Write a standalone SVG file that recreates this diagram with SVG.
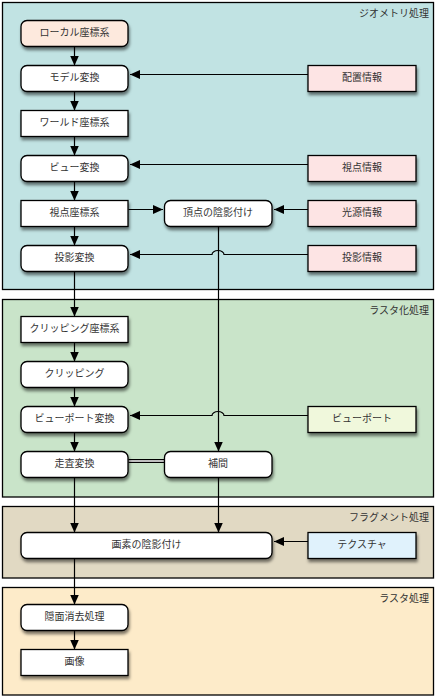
<svg xmlns="http://www.w3.org/2000/svg" width="436" height="697" viewBox="0 0 436 697">
<defs>
<filter id="sh" x="-10%" y="-20%" width="130%" height="160%">
<feDropShadow dx="1" dy="3" stdDeviation="1.8" flood-color="#000" flood-opacity="0.5"/>
</filter>
<marker id="ah" markerUnits="userSpaceOnUse" markerWidth="10" markerHeight="9" refX="10" refY="4.5" orient="auto">
<path d="M0,0 L10,4.5 L0,9 z" fill="#000"/>
</marker>
</defs>
<style>
.panel{stroke:#000;stroke-width:1.3}
.node{stroke:#000;stroke-width:1.3;filter:url(#sh)}
.t{font-family:"Noto Sans CJK JP","Noto Sans CJK SC",sans-serif;font-size:10px;fill:#333;text-anchor:middle}
.pl{font-family:"Noto Sans CJK JP","Noto Sans CJK SC",sans-serif;font-size:10px;fill:#333;text-anchor:end}
.c{fill:none;stroke:#000;stroke-width:1.2}
.a{marker-end:url(#ah)}
</style>

<g id="panel-geometry"><rect class="panel" x="2.5" y="2.5" width="431" height="287" fill="#c1e3e3"/><text class="pl" x="429" y="16.5">ジオメトリ処理</text></g>
<g id="panel-raster"><rect class="panel" x="2.5" y="299.5" width="431" height="197.5" fill="#c9e4c9"/><text class="pl" x="429" y="313.5">ラスタ化処理</text></g>
<g id="panel-fragment"><rect class="panel" x="2.5" y="506.5" width="431" height="71.5" fill="#e1d9c3"/><text class="pl" x="429" y="520.5">フラグメント処理</text></g>
<g id="panel-rasterop"><rect class="panel" x="2.5" y="587.5" width="431" height="107.5" fill="#fdebc9"/><text class="pl" x="429" y="601.5">ラスタ処理</text></g>

<g id="connectors">
<path class="c a" d="M74.5 46.5 V65.5"/>
<path class="c a" d="M74.5 91.5 V110.5"/>
<path class="c a" d="M74.5 136.5 V155.5"/>
<path class="c a" d="M74.5 181.5 V200.5"/>
<path class="c a" d="M74.5 226.5 V245.5"/>
<path class="c a" d="M74.5 271.5 V316.5"/>
<path class="c a" d="M74.5 342.5 V361.5"/>
<path class="c a" d="M74.5 387.5 V406.5"/>
<path class="c a" d="M74.5 432.5 V451.5"/>
<path class="c a" d="M74.5 477.5 V532.5"/>
<path class="c a" d="M74.5 558.5 V604.5"/>
<path class="c a" d="M74.5 630.5 V649.5"/>
<path class="c a" d="M308 74.5 H130"/>
<path class="c a" d="M308 164.5 H130"/>
<path class="c a" d="M128.5 209.5 H163"/>
<path class="c a" d="M308 209.5 H274"/>
<path class="c a" d="M308 254.5 H224 A6 4 0 0 0 212 254.5 H130"/>
<path class="c a" d="M308 415.5 H224 A6 4 0 0 0 212 415.5 H130"/>
<path class="c a" d="M218.5 226.5 V451.5"/>
<path class="c a" d="M218.5 477.5 V532.5"/>
<path class="c a" d="M308 541.5 H274"/>
<path d="M128.5 461 H164" fill="none" stroke="#000" stroke-width="4"/>
<path d="M128.5 461 H164" fill="none" stroke="#fff" stroke-width="1.6"/>
</g>

<g id="n-local"><rect class="node" x="21" y="20.5" width="107" height="26" rx="6" fill="#fde9dd"/><text class="t" x="74.5" y="35.5">ローカル座標系</text></g>
<g id="n-model"><rect class="node" x="21" y="65.5" width="107" height="26" rx="6" fill="#fff"/><text class="t" x="74.5" y="80.5">モデル変換</text></g>
<g id="n-world"><rect class="node" x="21" y="110.5" width="107" height="26" fill="#fff"/><text class="t" x="74.5" y="125.5">ワールド座標系</text></g>
<g id="n-view"><rect class="node" x="21" y="155.5" width="107" height="26" rx="6" fill="#fff"/><text class="t" x="74.5" y="170.5">ビュー変換</text></g>
<g id="n-eyecoord"><rect class="node" x="21" y="200.5" width="107" height="26" fill="#fff"/><text class="t" x="74.5" y="215.5">視点座標系</text></g>
<g id="n-proj"><rect class="node" x="21" y="245.5" width="107" height="26" rx="6" fill="#fff"/><text class="t" x="74.5" y="260.5">投影変換</text></g>
<g id="n-clipcoord"><rect class="node" x="21" y="316.5" width="107" height="26" fill="#fff"/><text class="t" x="74.5" y="331.5">クリッピング座標系</text></g>
<g id="n-clip"><rect class="node" x="21" y="361.5" width="107" height="26" rx="6" fill="#fff"/><text class="t" x="74.5" y="376.5">クリッピング</text></g>
<g id="n-vpt"><rect class="node" x="21" y="406.5" width="107" height="26" rx="6" fill="#fff"/><text class="t" x="74.5" y="421.5">ビューポート変換</text></g>
<g id="n-scan"><rect class="node" x="21" y="451.5" width="107" height="26" rx="6" fill="#fff"/><text class="t" x="74.5" y="466.5">走査変換</text></g>
<g id="n-pixshade"><rect class="node" x="21" y="532.5" width="251" height="26" rx="6" fill="#fff"/><text class="t" x="146.5" y="547.5">画素の陰影付け</text></g>
<g id="n-hsr"><rect class="node" x="21" y="604.5" width="107" height="26" rx="6" fill="#fff"/><text class="t" x="74.5" y="619.5">隠面消去処理</text></g>
<g id="n-image"><rect class="node" x="21" y="649.5" width="107" height="26" fill="#fff"/><text class="t" x="74.5" y="664.5">画像</text></g>

<g id="n-vshade"><rect class="node" x="164.5" y="200.5" width="107.5" height="26" rx="6" fill="#fff"/><text class="t" x="218" y="215.5">頂点の陰影付け</text></g>
<g id="n-interp"><rect class="node" x="164.5" y="451.5" width="107.5" height="26" rx="6" fill="#fff"/><text class="t" x="218" y="466.5">補間</text></g>

<g id="n-place"><rect class="node" x="308" y="65.5" width="108" height="26" fill="#fde4e4"/><text class="t" x="362" y="80.5">配置情報</text></g>
<g id="n-eye"><rect class="node" x="308" y="155.5" width="108" height="26" fill="#fde4e4"/><text class="t" x="362" y="170.5">視点情報</text></g>
<g id="n-light"><rect class="node" x="308" y="200.5" width="108" height="26" fill="#fde4e4"/><text class="t" x="362" y="215.5">光源情報</text></g>
<g id="n-projinfo"><rect class="node" x="308" y="245.5" width="108" height="26" fill="#fde4e4"/><text class="t" x="362" y="260.5">投影情報</text></g>
<g id="n-viewport"><rect class="node" x="308" y="406.5" width="108" height="26" fill="#f0f8dc"/><text class="t" x="362" y="421.5">ビューポート</text></g>
<g id="n-texture"><rect class="node" x="308" y="532.5" width="108" height="26" fill="#e0f2fc"/><text class="t" x="362" y="547.5">テクスチャ</text></g>
</svg>
